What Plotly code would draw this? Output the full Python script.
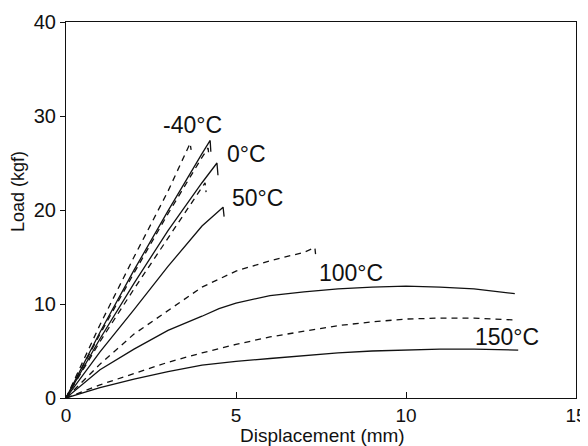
import plotly.graph_objects as go

# Displacement (mm) / Load (kgf)
m40_dash_x = [0, 1, 2, 3, 3.65, 3.68]
m40_dash_y = [0, 7.8, 15.0, 22.0, 27.1, 26.4]
m40_sol_x = [0, 1, 2, 3, 4, 4.24, 4.26]
m40_sol_y = [0, 7.0, 13.6, 19.9, 26.0, 27.4, 26.2]
c0_dash_x = [0, 1, 2, 3, 4, 4.18, 4.2]
c0_dash_y = [0, 6.8, 13.3, 19.6, 25.6, 26.6, 25.8]
c0_sol_x = [0, 1, 2, 3, 4, 4.44, 4.47]
c0_sol_y = [0, 6.3, 12.2, 17.8, 22.9, 25.0, 23.7]
c50_dash_x = [0, 1, 2, 3, 4, 4.09, 4.12]
c50_dash_y = [0, 6.0, 11.6, 17.0, 22.4, 22.9, 21.9]
c50_sol_x = [0, 1, 2, 3, 4, 4.62, 4.65]
c50_sol_y = [0, 4.9, 9.4, 14.0, 18.3, 20.3, 19.3]
c100_dash_x = [0, 1, 2, 3, 4, 5, 6, 7, 7.32, 7.34]
c100_dash_y = [0, 3.6, 6.8, 9.3, 11.8, 13.5, 14.6, 15.5, 16.0, 15.3]
c100_sol_x = [0, 1, 2, 3, 4, 4.5, 5, 5.5, 6, 7, 8, 9, 10, 11, 12, 13.2]
c100_sol_y = [0, 3.0, 5.2, 7.2, 8.7, 9.5, 10.1, 10.5, 10.9, 11.3, 11.6, 11.8, 11.9, 11.8, 11.6, 11.1]
c150_dash_x = [0, 1, 2, 3, 4, 5, 6, 7, 8, 9, 10, 11, 12, 13.2]
c150_dash_y = [0, 1.4, 2.6, 3.8, 4.8, 5.7, 6.5, 7.1, 7.7, 8.1, 8.4, 8.5, 8.5, 8.3]
c150_sol_x = [0, 1, 2, 3, 4, 5, 6, 7, 8, 9, 10, 11, 12, 13.3]
c150_sol_y = [0, 1.1, 2.0, 2.8, 3.5, 3.9, 4.2, 4.5, 4.8, 5.0, 5.1, 5.2, 5.2, 5.1]

label_text = ["-40°C", "0°C", "50°C", "100°C", "150°C"]
label_x = [3.72, 5.32, 5.63, 8.37, 12.97]
label_y = [29.0, 26.0, 21.3, 13.35, 6.5]

x_title = "Displacement (mm)"
y_title = "Load (kgf)"
x_ticks = [0, 5, 10, 15]
y_ticks = [0, 10, 20, 30, 40]

series = [
    (m40_dash_x, m40_dash_y, "dash"), (m40_sol_x, m40_sol_y, "solid"),
    (c0_dash_x, c0_dash_y, "dash"), (c0_sol_x, c0_sol_y, "solid"),
    (c50_dash_x, c50_dash_y, "dash"), (c50_sol_x, c50_sol_y, "solid"),
    (c100_dash_x, c100_dash_y, "dash"), (c100_sol_x, c100_sol_y, "solid"),
    (c150_dash_x, c150_dash_y, "dash"), (c150_sol_x, c150_sol_y, "solid"),
]

fig = go.Figure()
for xs, ys, d in series:
    fig.add_trace(go.Scatter(
        x=xs, y=ys, mode="lines", showlegend=False,
        line=dict(color="#111111", width=1.3, dash="6px,5px" if d == "dash" else "solid"),
    ))

for t, x, y in zip(label_text, label_x, label_y):
    fig.add_annotation(x=x, y=y, text=t, showarrow=False,
                       font=dict(size=23, color="#111111"))

# axis titles as paper annotations for exact placement
fig.add_annotation(x=0.502, y=-0.1, xref="paper", yref="paper", text=x_title,
                   showarrow=False, xanchor="center", yanchor="middle", borderpad=0,
                   font=dict(size=19, color="#111111"))
fig.add_annotation(x=-0.094, y=0.548, xref="paper", yref="paper", text=y_title,
                   showarrow=False, xanchor="center", yanchor="middle", textangle=-90,
                   font=dict(size=18, color="#111111"))

font = dict(family="Liberation Sans, Arial, sans-serif", size=19, color="#111111")
# the page body adds an 8px offset; the figure size/margins compensate for it
fig.update_layout(
    width=580, height=438,
    margin=dict(l=58, r=12, t=14, b=48, autoexpand=False),
    paper_bgcolor="white", plot_bgcolor="white",
    font=font,
)
fig.update_xaxes(
    range=[0, 15], tickvals=x_ticks, ticks="inside", ticklen=6, tickcolor="#111111",
    showline=True, linecolor="#111111", linewidth=1, mirror=True, showgrid=False, zeroline=False,
    automargin=False, tickfont=dict(size=19),
)
fig.update_yaxes(
    range=[0, 40], tickvals=y_ticks, ticks="outside", ticklen=5, tickcolor="#111111",
    showline=True, linecolor="#111111", linewidth=1, mirror=True, showgrid=False, zeroline=False,
    automargin=False, tickfont=dict(size=20),
)
fig.write_html("out.html")
